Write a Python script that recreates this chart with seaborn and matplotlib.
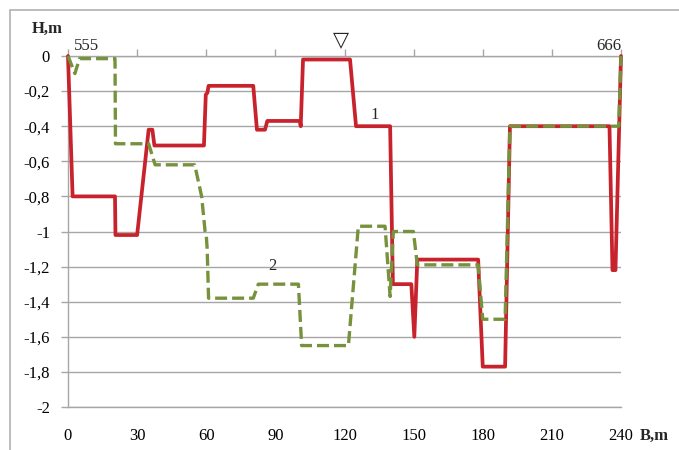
import matplotlib
matplotlib.use("Agg")
import matplotlib.pyplot as plt
import seaborn as sns
import pandas as pd
from matplotlib.lines import Line2D

# Profile 1 (red, solid)
x1 = [0, 2, 20.4, 20.6, 30, 35, 36.6, 37.5, 59, 59.8, 60.5, 61, 80.4, 82, 85.5, 86.5,
      100.6, 101, 102, 122.4, 125, 139.8, 141, 149, 150.3, 151.6, 178, 180, 189.7,
      191.8, 235, 236.3, 237.6, 240]
y1 = [0, -0.80, -0.80, -1.02, -1.02, -0.42, -0.42, -0.51, -0.51, -0.22, -0.21, -0.17,
      -0.17, -0.42, -0.42, -0.37, -0.37, -0.40, -0.02, -0.02, -0.40, -0.40, -1.30,
      -1.30, -1.60, -1.16, -1.16, -1.77, -1.77, -0.40, -0.40, -1.22, -1.22, 0]

# Profile 2 (green, dashed)
x2 = [0, 3, 5, 20.4, 20.6, 35, 37.8, 55, 58, 59.5, 60.0, 60.4, 61, 80.4, 82.6, 100,
      101.4, 121.7, 126, 137.6, 139.8, 141.2, 149.9, 151.6, 178, 180, 189.7, 191.8,
      239, 240]
y2 = [0, -0.10, -0.015, -0.015, -0.50, -0.50, -0.62, -0.62, -0.80, -1.00, -1.02,
      -1.10, -1.38, -1.38, -1.30, -1.30, -1.65, -1.65, -0.97, -0.97, -1.37, -1.00,
      -1.00, -1.19, -1.19, -1.50, -1.50, -0.40, -0.40, 0]

x_ticks = [0, 30, 60, 90, 120, 150, 180, 210, 240]
y_ticks = [0, -0.2, -0.4, -0.6, -0.8, -1, -1.2, -1.4, -1.6, -1.8, -2]
y_labels = ["0", "-0,2", "-0,4", "-0,6", "-0,8", "-1", "-1,2", "-1,4", "-1,6", "-1,8", "-2"]

sns.set_theme(style="white")
plt.rcParams['font.family'] = ['Liberation Serif', 'DejaVu Sans']

RED = "#C8232C"
GREEN = "#76923C"
GRID = "#a6a6a6"

fig = plt.figure(figsize=(6.79, 4.50), dpi=100)
ax = fig.add_axes([68/679, 1-407/450, (621-68)/679, (407-56)/450])

df1 = pd.DataFrame({"x": x1, "y": y1})
df2 = pd.DataFrame({"x": x2, "y": y2})
sns.lineplot(data=df1, x="x", y="y", sort=False, estimator=None, color=RED,
             linewidth=2.7, ax=ax, clip_on=False, zorder=3)
sns.lineplot(data=df2, x="x", y="y", sort=False, estimator=None, color=GREEN,
             linewidth=2.4, ax=ax, clip_on=False, zorder=4,
             linestyle=(0, (3.6, 1.5)))

ax.set_xlim(0, 240)
ax.set_ylim(-2, 0)
ax.set_xticks(x_ticks)
ax.set_xticklabels([str(v) for v in x_ticks])
ax.set_yticks(y_ticks)
ax.set_yticklabels(y_labels)
ax.set_xlabel("")
ax.set_ylabel("")

ax.grid(axis="y", color=GRID, linewidth=1.0)
ax.grid(axis="x", visible=False)
for s in ["left", "top", "bottom"]:
    ax.spines[s].set_visible(True)
    ax.spines[s].set_color(GRID)
    ax.spines[s].set_linewidth(1.0)
ax.spines["right"].set_visible(False)

ax.tick_params(axis="x", which="both", bottom=False, top=True, labelbottom=True,
               labeltop=False, direction="out", length=5, width=1, color=GRID,
               pad=10, labelsize=12, labelcolor="black")
ax.tick_params(axis="y", left=True, direction="out", length=5, width=1, color=GRID,
               pad=8, labelsize=12, labelcolor="black")

# annotations
ax.text(-9.1, 0.155, "H,m", ha="center", va="center", fontsize=12, fontweight="bold",
        clip_on=False)
ax.text(248.0, -2.165, "B,m", ha="left", va="center", fontsize=12, fontweight="bold",
        clip_on=False)
ax.text(2.5, 0.057, "555", ha="left", va="center", fontsize=12, clip_on=False)
ax.text(240, 0.057, "666", ha="right", va="center", fontsize=12, clip_on=False)
ax.text(118.5, 0.088, "\u25BD", ha="center", va="center", fontsize=15,
        family=['DejaVu Sans'], clip_on=False)
ax.text(133.2, -0.336, "1", ha="center", va="center", fontsize=12)
ax.text(88.5, -1.197, "2", ha="center", va="center", fontsize=12)

# outer chart frame
fig.add_artist(Line2D([9.5/679, 9.5/679], [0, 1-10/450], transform=fig.transFigure,
                      color="#b8b8b8", linewidth=1.3))
fig.add_artist(Line2D([9.5/679, 1], [1-10/450, 1-10/450], transform=fig.transFigure,
                      color="#b8b8b8", linewidth=1.3))

fig.savefig("out.png", dpi=100)
